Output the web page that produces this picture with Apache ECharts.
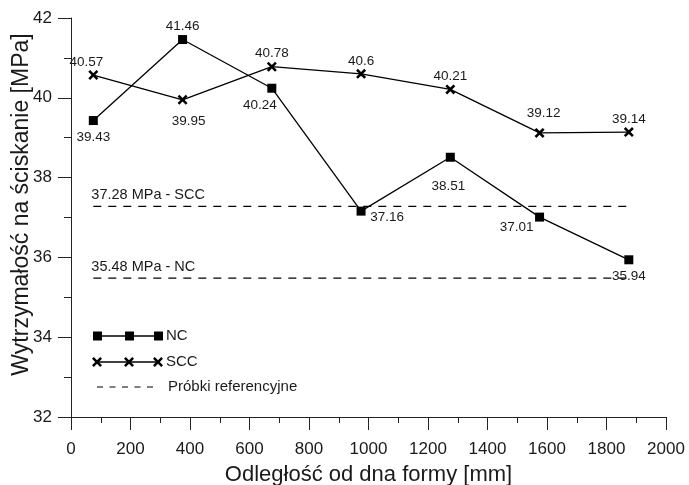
<!DOCTYPE html>
<html>
<head>
<meta charset="utf-8">
<script src="https://cdn.jsdelivr.net/npm/echarts@6/dist/echarts.min.js"></script>
<style>
html,body{margin:0;padding:0;background:#fff;}
#chart{width:689px;height:485px;}
</style>
</head>
<body>
<div id="chart"></div>
<script>
// ---- data ----
var distances = [75, 375, 675, 975, 1275, 1575, 1875];
var ncValues  = [39.43, 41.46, 40.24, 37.16, 38.51, 37.01, 35.94];
var sccValues = [40.57, 39.95, 40.78, 40.6, 40.21, 39.12, 39.14];
var refValues = [37.28, 35.48];
var refNames  = ['37.28 MPa - SCC', '35.48 MPa - NC'];
var refExtent = [75, 1875];
var xTicks = [0, 2000, 200];
var yTicks = [32, 42, 2];
var seriesNames = ['NC', 'SCC', 'Próbki referencyjne'];

// ---- presentation ----
var FONT = '"Liberation Sans", Arial, sans-serif';
var ncLabelOffsets  = [[0,17],[0,-13],[-12,17],[26,6],[-2,29],[-23,10],[0,16]];
var sccLabelOffsets = [[-7,-13],[6,21],[0,-13],[0,-13],[0,-13],[4,-20],[0,-13]];
var CROSS_PTS = [[0,1.8],[1.8,0],[5,3.2],[8.2,0],[10,1.8],[6.8,5],[10,8.2],[8.2,10],[5,6.8],[1.8,10],[0,8.2],[3.2,5]];
var CROSS = 'path://M' + CROSS_PTS.map(function (p) { return p.join(','); }).join('L') + 'Z';

function pts(vals, offs) {
  return distances.map(function (d, i) {
    return {
      value: [d, vals[i]],
      label: { show: true, position: 'inside', offset: offs[i],
               formatter: String(vals[i]), color: '#1a1a1a',
               fontFamily: FONT, fontSize: 13.5 }
    };
  });
}

var series = [
  {
    name: seriesNames[0], type: 'line', data: pts(ncValues, ncLabelOffsets),
    symbol: 'rect', symbolSize: 9, z: 3,
    lineStyle: { color: '#000', width: 1.3 }, itemStyle: { color: '#000' }
  },
  {
    name: seriesNames[1], type: 'line', data: pts(sccValues, sccLabelOffsets),
    symbol: CROSS, symbolSize: 10, z: 3,
    lineStyle: { color: '#000', width: 1.3 }, itemStyle: { color: '#000' }
  }
];
refValues.forEach(function (v, k) {
  series.push({
    name: seriesNames[2], type: 'line', symbol: 'circle', symbolSize: 0.01, showSymbol: true, silent: true,
    data: [
      { value: [refExtent[0], v],
        label: { show: true, position: 'inside', align: 'left', offset: [-2, -11],
                 formatter: refNames[k], color: '#1a1a1a', fontFamily: FONT, fontSize: 14.5 } },
      { value: [refExtent[1], v] }
    ],
    itemStyle: { color: 'rgba(0,0,0,0)' },
    lineStyle: { color: '#000', width: 1.2, type: [8, 7] }, z: 2
  });
});

function crossAt(cx, cy) {
  return { type: 'polygon', shape: { points: CROSS_PTS.map(function (p) { return [cx - 5 + p[0], cy - 5 + p[1]]; }) },
           style: { fill: '#000' }, z: 10 };
}
function text(x, y, t) {
  return { type: 'text', x: x, y: y, z: 10,
           style: { text: t, fontFamily: FONT, fontSize: 15, fill: '#1a1a1a', verticalAlign: 'middle' } };
}

var chart = echarts.init(document.getElementById('chart'), null, { renderer: 'canvas' });
chart.setOption({
  backgroundColor: '#fff',
  animation: false,
  grid: { left: 71, right: 23, top: 18, bottom: 68, containLabel: false, outerBoundsMode: 'none' },
  xAxis: {
    type: 'value', min: xTicks[0], max: xTicks[1], interval: xTicks[2],
    name: 'Odległość od dna formy [mm]', nameLocation: 'middle', nameGap: 47, nameMoveOverlap: false,
    nameTextStyle: { fontFamily: FONT, fontSize: 22, color: '#1a1a1a' },
    axisLine: { lineStyle: { color: '#222', width: 1 } },
    axisTick: { show: true, length: 13, lineStyle: { color: '#222' } },
    minorTick: { show: true, splitNumber: 2, length: 6, lineStyle: { color: '#222' } },
    splitLine: { show: false },
    axisLabel: { fontFamily: FONT, fontSize: 17, color: '#1a1a1a', margin: 24,
                 formatter: function (v) { return String(v); } }
  },
  yAxis: {
    type: 'value', min: yTicks[0], max: yTicks[1], interval: yTicks[2],
    name: 'Wytrzymałość na ściskanie [MPa]', nameLocation: 'middle', nameGap: 38, nameRotate: 90, nameMoveOverlap: false,
    nameTextStyle: { fontFamily: FONT, fontSize: 23, color: '#1a1a1a', padding: [0, 0, 0, 26] },
    axisLine: { show: true, lineStyle: { color: '#222', width: 1 } },
    axisTick: { show: true, length: 13, lineStyle: { color: '#222' } },
    minorTick: { show: true, splitNumber: 2, length: 7, lineStyle: { color: '#222' } },
    splitLine: { show: false },
    axisLabel: { fontFamily: FONT, fontSize: 17, color: '#1a1a1a', margin: 19,
                 formatter: function (v) { return String(v); } }
  },
  series: series,
  graphic: [
    { type: 'line', shape: { x1: 97, y1: 336, x2: 158, y2: 336 }, style: { stroke: '#000', lineWidth: 1.3 }, z: 10 },
    { type: 'rect', shape: { x: 93, y: 331.5, width: 9, height: 9 }, style: { fill: '#000' }, z: 10 },
    { type: 'rect', shape: { x: 125, y: 331.5, width: 9, height: 9 }, style: { fill: '#000' }, z: 10 },
    { type: 'rect', shape: { x: 154, y: 331.5, width: 9, height: 9 }, style: { fill: '#000' }, z: 10 },
    text(166, 336, 'NC'),
    { type: 'line', shape: { x1: 97, y1: 362, x2: 158, y2: 362 }, style: { stroke: '#000', lineWidth: 1.3 }, z: 10 },
    crossAt(97, 362), crossAt(129, 362), crossAt(158, 362),
    text(166, 362, 'SCC'),
    { type: 'line', shape: { x1: 97, y1: 387, x2: 158, y2: 387 }, style: { stroke: '#000', lineWidth: 1.2, lineDash: [6, 6.5] }, z: 10 },
    text(168, 387, 'Próbki referencyjne')
  ]
});
</script>
</body>
</html>
